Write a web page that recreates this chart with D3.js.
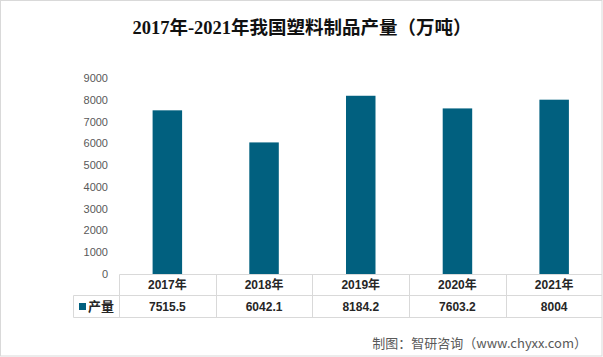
<!DOCTYPE html>
<html><head><meta charset="utf-8">
<script src="https://cdn.jsdelivr.net/npm/d3@7"></script>
<style>html,body{margin:0;padding:0;background:#fff;}svg{display:block;}</style>
</head><body>
<svg id="c" width="603" height="357"></svg>
<script>
const title = "2017年-2021年我国塑料制品产量（万吨）";
const categories = ["2017年","2018年","2019年","2020年","2021年"];
const seriesName = "产量";
const values = [7515.5, 6042.1, 8184.2, 7603.2, 8004];
const valueLabels = ["7515.5","6042.1","8184.2","7603.2","8004"];
const yTicks = [0,1000,2000,3000,4000,5000,6000,7000,8000,9000];
const source = "制图：智研咨询（www.chyxx.com）";

const svg = d3.select("#c");
const W = 603, H = 357;
const barColor = "#01607f";
const lineColor = "#d9d9d9";

svg.append("rect").attr("x",0.5).attr("y",0.5).attr("width",W-1.5).attr("height",H-1.5)
  .attr("fill","#fff").attr("stroke","#d9d9d9");

svg.append("text").attr("x",302).attr("y",34).attr("text-anchor","middle")
  .style("font-family","'Liberation Serif','Noto Sans CJK SC',serif")
  .style("font-size","18.5px").style("font-weight","bold").attr("fill","#111")
  .text(title);

const x = d3.scaleBand().domain(categories).range([119, 602.5]).padding(0);
const y = d3.scaleLinear().domain([0, 9000]).range([274, 78]);
const bw = x.bandwidth() * 0.305;

// y axis labels
const yAxis = d3.axisLeft(y).tickValues(yTicks).tickSize(0).tickPadding(0).tickFormat(d3.format("d"));
const ya = svg.append("g").attr("transform","translate(108,0)").call(yAxis);
ya.select(".domain").remove();
ya.selectAll("text").style("font-family","'Liberation Sans','DejaVu Sans',sans-serif")
  .style("font-size","11px").attr("fill","#595959");

// bars
svg.append("g").selectAll("rect").data(values).join("rect")
  .attr("x",(d,i)=>x(categories[i]) + x.bandwidth()/2 - bw/2)
  .attr("width",bw)
  .attr("y",d=>y(d))
  .attr("height",d=>y(0)-y(d))
  .attr("fill",barColor);

// data table
const tTop = 274.5, tMid = 295.5, tBot = 317.5, tLeft = 73.5;
const g = svg.append("g").attr("stroke",lineColor).attr("stroke-width",1);
g.append("line").attr("x1",119.5).attr("x2",602).attr("y1",tTop).attr("y2",tTop);
g.append("line").attr("x1",tLeft).attr("x2",602).attr("y1",tMid).attr("y2",tMid);
g.append("line").attr("x1",tLeft).attr("x2",602).attr("y1",tBot).attr("y2",tBot);
g.append("line").attr("x1",tLeft).attr("x2",tLeft).attr("y1",tMid).attr("y2",tBot);
const divs = categories.map(c=>Math.round(x(c))+0.5);
g.selectAll(".v").data(divs).join("line").attr("class","v")
  .attr("x1",d=>d).attr("x2",d=>d).attr("y1",tTop).attr("y2",tBot);

const tf = "'Liberation Sans','Noto Sans CJK SC',sans-serif";
svg.append("g").selectAll("text").data(categories).join("text")
  .attr("x",d=>x(d)+x.bandwidth()/2).attr("y",(tTop+tMid)/2).attr("dy","0.36em")
  .attr("text-anchor","middle").style("font-family",tf).style("font-size","12px")
  .style("font-weight","bold").attr("fill","#262626").text(d=>d);
svg.append("g").selectAll("text").data(valueLabels).join("text")
  .attr("x",(d,i)=>x(categories[i])+x.bandwidth()/2).attr("y",(tMid+tBot)/2).attr("dy","0.36em")
  .attr("text-anchor","middle").style("font-family",tf).style("font-size","12px")
  .style("font-weight","bold").attr("fill","#262626").text(d=>d);

svg.append("rect").attr("x",79).attr("y",303).attr("width",7).attr("height",7).attr("fill",barColor);
svg.append("text").attr("x",88).attr("y",(tMid+tBot)/2).attr("dy","0.36em")
  .style("font-family","'Noto Sans CJK SC',sans-serif").style("font-size","13px")
  .style("font-weight","bold").attr("fill","#262626").text(seriesName);

svg.append("text").attr("x",587).attr("y",348).attr("text-anchor","end")
  .style("font-family","'Noto Sans CJK SC',sans-serif").style("font-size","13px")
  .attr("fill","#595959").text(source);
</script>
</body></html>
